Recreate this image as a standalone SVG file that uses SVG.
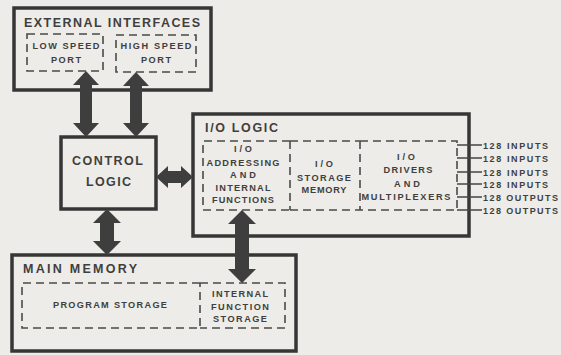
<svg xmlns="http://www.w3.org/2000/svg" width="561" height="355" viewBox="0 0 561 355">
<style>
.box{fill:none;stroke:#363636;stroke-width:3.5}
.dash{fill:none;stroke:#4a4a4a;stroke-width:1.6;stroke-dasharray:8 5}
.arrow{fill:#3e3e3e;stroke:none}
.wire{stroke:#444;stroke-width:1.4;fill:none}
text{font-family:"Liberation Sans",Arial,sans-serif;font-weight:bold;fill:#3f3f3f}
.title{font-size:12.5px}
.lbl{font-size:9.2px;text-anchor:middle}
.big{font-size:12.5px;text-anchor:middle}
.io{font-size:9px}
</style>
<rect width="561" height="355" fill="#edece8"/>

<g id="external-interfaces">
<rect class="box" x="14" y="8" width="197" height="82"/>
<text class="title" x="24" y="27" textLength="176" lengthAdjust="spacing">EXTERNAL INTERFACES</text>
</g>
<g id="low-speed-port">
<rect class="dash" x="27" y="34" width="76" height="37"/>
<text class="lbl" x="66" y="49" textLength="67" lengthAdjust="spacing">LOW SPEED</text>
<text class="lbl" x="66" y="63" textLength="30" lengthAdjust="spacing">PORT</text>
</g>
<g id="high-speed-port">
<rect class="dash" x="116" y="35" width="80" height="37"/>
<text class="lbl" x="156" y="49" textLength="71" lengthAdjust="spacing">HIGH SPEED</text>
<text class="lbl" x="156" y="63" textLength="30" lengthAdjust="spacing">PORT</text>
</g>

<g id="control-logic">
<rect class="box" x="61" y="137" width="95" height="72" stroke-width="3"/>
<text class="big" x="107.5" y="165" textLength="71" lengthAdjust="spacing">CONTROL</text>
<text class="big" x="108.5" y="186" textLength="45" lengthAdjust="spacing">LOGIC</text>
</g>

<g id="io-logic">
<rect class="box" x="193" y="114" width="276" height="122"/>
<text class="title" x="205" y="132" textLength="73" lengthAdjust="spacing">I/O LOGIC</text>
</g>
<g id="io-addressing">
<path class="dash" d="M290 141 H203 V210 H290"/>
<text class="lbl" x="243" y="152" textLength="18" lengthAdjust="spacing">I/O</text>
<text class="lbl" x="243" y="165.5" textLength="73" lengthAdjust="spacing">ADDRESSING</text>
<text class="lbl" x="243" y="177.5" textLength="26" lengthAdjust="spacing">AND</text>
<text class="lbl" x="243" y="190.5" textLength="55" lengthAdjust="spacing">INTERNAL</text>
<text class="lbl" x="243" y="203" textLength="62" lengthAdjust="spacing">FUNCTIONS</text>
</g>
<g id="io-storage-memory">
<path class="dash" d="M290 141 V210 M290 141 H360 M290 210 H360"/>
<text class="lbl" x="324" y="167" textLength="18" lengthAdjust="spacing">I/O</text>
<text class="lbl" x="324" y="180.5" textLength="54" lengthAdjust="spacing">STORAGE</text>
<text class="lbl" x="324" y="193" textLength="45" lengthAdjust="spacing">MEMORY</text>
</g>
<g id="io-drivers">
<path class="dash" d="M360 141 V210 M360 141 H457 V210 H360"/>
<text class="lbl" x="406" y="159.5" textLength="18" lengthAdjust="spacing">I/O</text>
<text class="lbl" x="408" y="173" textLength="49" lengthAdjust="spacing">DRIVERS</text>
<text class="lbl" x="407" y="186.5" textLength="26" lengthAdjust="spacing">AND</text>
<text class="lbl" x="406" y="200" textLength="89" lengthAdjust="spacing">MULTIPLEXERS</text>
</g>

<g id="main-memory">
<rect class="box" x="12" y="255" width="284" height="96"/>
<text class="title" x="23" y="273" textLength="114" lengthAdjust="spacing">MAIN MEMORY</text>
</g>
<g id="program-storage">
<path class="dash" d="M200 283 H22 V328 H200 V283"/>
<text class="lbl" x="110" y="308" textLength="114" lengthAdjust="spacing">PROGRAM STORAGE</text>
</g>
<g id="internal-function-storage">
<path class="dash" d="M200 283 H285 V328 H200"/>
<text class="lbl" x="240" y="297" textLength="56" lengthAdjust="spacing">INTERNAL</text>
<text class="lbl" x="240" y="309.5" textLength="58" lengthAdjust="spacing">FUNCTION</text>
<text class="lbl" x="240" y="322" textLength="54" lengthAdjust="spacing">STORAGE</text>
</g>

<g id="io-lines">
<path class="wire" d="M457 145 H482 M457 158 H482 M457 172 H482 M457 184 H482 M457 197 H482 M457 210 H482"/>
<text class="io" x="483" y="148.5" textLength="65" lengthAdjust="spacing">128 INPUTS</text>
<text class="io" x="483" y="161.5" textLength="65" lengthAdjust="spacing">128 INPUTS</text>
<text class="io" x="483" y="175.5" textLength="65" lengthAdjust="spacing">128 INPUTS</text>
<text class="io" x="483" y="187.5" textLength="65" lengthAdjust="spacing">128 INPUTS</text>
<text class="io" x="483" y="200.5" textLength="75" lengthAdjust="spacing">128 OUTPUTS</text>
<text class="io" x="483" y="213.5" textLength="75" lengthAdjust="spacing">128 OUTPUTS</text>
</g>

<g id="connectors">
<polygon class="arrow" points="86,71 99,85 92,85 92,123 99,123 86,137 73,123 80,123 80,85 73,85"/>
<polygon class="arrow" points="136,72 149,86 142,86 142,123 149,123 136,137 123,123 130,123 130,86 123,86"/>
<polygon class="arrow" points="107,209 121,223 114,223 114,241 121,241 107,255 93,241 100,241 100,223 93,223"/>
<polygon class="arrow" points="156,177 168,166 168,171 181,171 181,166 193,177 181,188 181,183 168,183 168,188"/>
<polygon class="arrow" points="242,210 256,224 249,224 249,269 256,269 242,283 228,269 235,269 235,224 228,224"/>
</g>
</svg>
